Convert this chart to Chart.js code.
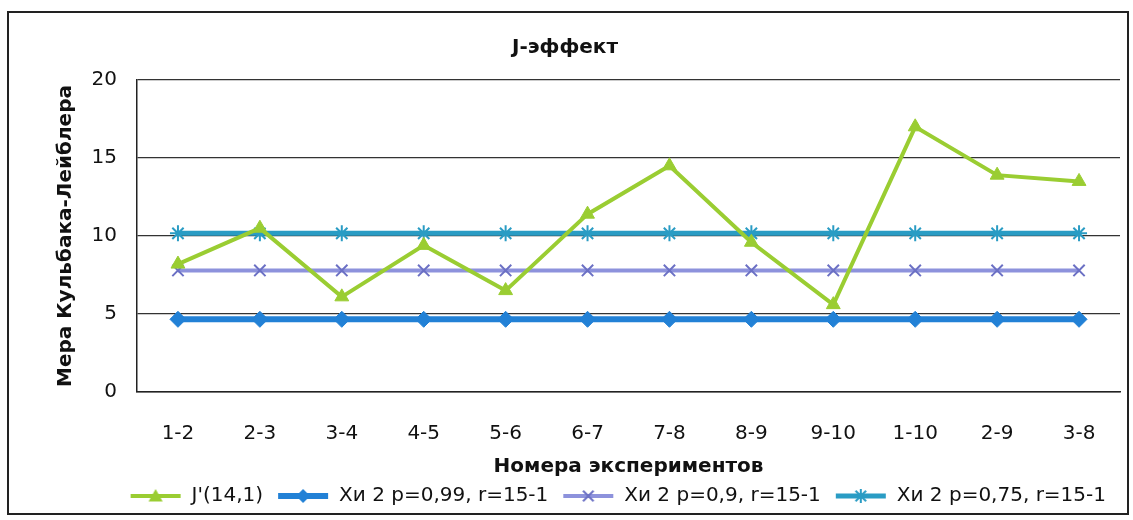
<!DOCTYPE html>
<html>
<head>
<meta charset="utf-8">
<script src="https://cdn.jsdelivr.net/npm/chart.js@4"></script>
<style>
  html, body { margin:0; padding:0; background:#fff; }
  #wrap { width:1133px; height:520px; position:relative; }
</style>
</head>
<body>
<div id="wrap"><canvas id="chart"></canvas></div>
<script>
// categories and values
const categories = ['1-2','2-3','3-4','4-5','5-6','6-7','7-8','8-9','9-10','1-10','2-9','3-8'];
const jEffect = [8.2, 10.5, 6.1, 9.4, 6.5, 11.4, 14.5, 9.6, 5.6, 17.0, 13.9, 13.5];
const chi099 = [4.66, 4.66, 4.66, 4.66, 4.66, 4.66, 4.66, 4.66, 4.66, 4.66, 4.66, 4.66];
const chi090 = [7.79, 7.79, 7.79, 7.79, 7.79, 7.79, 7.79, 7.79, 7.79, 7.79, 7.79, 7.79];
const chi075 = [10.17, 10.17, 10.17, 10.17, 10.17, 10.17, 10.17, 10.17, 10.17, 10.17, 10.17, 10.17];
const seriesNames = ["J'(14,1)", 'Хи 2 p=0,99, r=15-1', 'Хи 2 p=0,9, r=15-1', 'Хи 2 p=0,75, r=15-1'];
const yTicks = [0, 5, 10, 15, 20];

const FONT = '"DejaVu Sans", "Open Sans", sans-serif';

const series = [
  { data: jEffect, line:'#9acd32', mark:'#9acd32', style:'triangle', r:8, bw:1, lw:4 },
  { data: chi099, line:'#2281d6', mark:'#2281d6', style:'rectRot', r:8, bw:1, lw:6 },
  { data: chi090, line:'#8d92dc', mark:'#6b70c4', style:'crossRot', r:8, bw:2, lw:4 },
  { data: chi075, line:'#2a9cc4', mark:'#2a9cc4', style:'star', r:8, bw:2, lw:5 }
];

// legend swatch: short line with the series marker in the middle
function swatch(s) {
  const c = document.createElement('canvas');
  c.width = 52; c.height = 20;
  const g = c.getContext('2d');
  g.strokeStyle = s.line; g.lineWidth = s.lw;
  g.beginPath(); g.moveTo(1, 10); g.lineTo(51, 10); g.stroke();
  g.fillStyle = s.mark; g.strokeStyle = s.mark; g.lineWidth = s.bw;
  const cx = 26, cy = 10, r = 7;
  g.beginPath();
  if (s.style === 'triangle') {
    g.moveTo(cx, cy - r); g.lineTo(cx + r, cy + r * 0.8); g.lineTo(cx - r, cy + r * 0.8); g.closePath(); g.fill();
  } else if (s.style === 'rectRot') {
    g.moveTo(cx, cy - r); g.lineTo(cx + r, cy); g.lineTo(cx, cy + r); g.lineTo(cx - r, cy); g.closePath(); g.fill();
  } else {
    const d = r * 0.75;
    g.moveTo(cx - d, cy - d); g.lineTo(cx + d, cy + d);
    g.moveTo(cx + d, cy - d); g.lineTo(cx - d, cy + d);
    if (s.style === 'star') { g.moveTo(cx, cy - r); g.lineTo(cx, cy + r); }
    g.stroke();
  }
  return c;
}

const frame = {
  id: 'frame',
  afterDraw(chart) {
    const ctx = chart.ctx;
    ctx.save();
    ctx.strokeStyle = '#222'; ctx.lineWidth = 2;
    ctx.strokeRect(8, 12, 1120, 502);
    ctx.restore();
  }
};

new Chart(document.getElementById('chart'), {
  type: 'line',
  data: {
    labels: categories,
    datasets: series.map((s, i) => ({
      label: seriesNames[i],
      data: s.data,
      borderColor: s.line,
      backgroundColor: s.mark,
      borderWidth: s.lw,
      pointStyle: s.style,
      pointRadius: s.r,
      pointBorderWidth: s.bw,
      pointBackgroundColor: s.mark,
      pointBorderColor: s.mark,
      tension: 0,
      fill: false,
      order: i
    }))
  },
  options: {
    responsive: true,
    maintainAspectRatio: false,
    animation: false,
    layout: { padding: { left: 10, right: 13, top: 12, bottom: 4 } },
    plugins: {
      title: {
        display: true, text: 'J-эффект', color: '#111',
        font: { family: FONT, size: 20, weight: 'bold', lineHeight: 1 },
        padding: { top: 26, bottom: 22 }
      },
      legend: {
        position: 'bottom', align: 'end',
        labels: {
          usePointStyle: true, pointStyleWidth: 52,
          color: '#111', padding: 14,
          font: { family: FONT, size: 20, lineHeight: 1 },
          generateLabels(chart) {
            return chart.data.datasets.map((d, i) => ({
              text: d.label, pointStyle: swatch(series[i]), datasetIndex: i,
              fillStyle: series[i].mark, strokeStyle: series[i].mark, lineWidth: 0,
              fontColor: '#111'
            }));
          }
        }
      },
      tooltip: { enabled: false }
    },
    scales: {
      x: {
        offset: true,
        grid: { display: false, drawTicks: false },
        border: { display: true, color: '#222', width: 1.5 },
        ticks: { color: '#111', padding: 30, font: { family: FONT, size: 20 } },
        title: { display: true, text: 'Номера экспериментов', color: '#111',
                 font: { family: FONT, size: 20, weight: 'bold', lineHeight: 1 }, padding: { top: 0, bottom: -5 } },
        afterFit(scale) { scale.height = 80; }
      },
      y: {
        min: 0, max: 20,
        afterBuildTicks(scale) { scale.ticks = yTicks.map(v => ({ value: v })); },
        grid: { color: '#333', lineWidth: 1.2, drawTicks: false },
        border: { display: true, color: '#222', width: 1.5 },
        ticks: { color: '#111', padding: 20, font: { family: FONT, size: 20 } },
        title: { display: true, text: 'Мера Кульбака-Лейблера', color: '#111',
                 font: { family: FONT, size: 20, weight: 'bold', lineHeight: 1 }, padding: { top: 46, bottom: 0 } },
        afterFit(scale) { scale.width = 127; }
      }
    }
  },
  plugins: [frame]
});
</script>
</body>
</html>
